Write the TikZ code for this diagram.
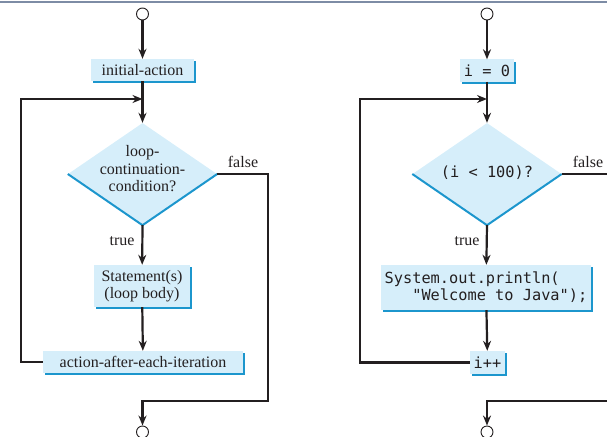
\documentclass[tikz,border=0pt]{standalone}
\usepackage{fontspec}
\setmainfont{Liberation Serif}
\setmonofont{DejaVu Sans Mono}
\usetikzlibrary{arrows.meta,shapes.geometric,shadows}
\definecolor{boxfill}{RGB}{214,238,250}
\definecolor{boxedge}{RGB}{28,150,205}
\definecolor{ink}{RGB}{35,31,32}
\definecolor{topgray}{RGB}{125,140,165}
\tikzset{
  txt/.style={font=\fontsize{16}{17.5}\selectfont, text=ink},
  code/.style={font=\ttfamily\fontsize{15.3}{17}\selectfont, text=ink},
  box/.style={rectangle, fill=boxfill, inner sep=0pt, align=center,
    drop shadow={shadow xshift=2pt, shadow yshift=-2pt, fill=boxedge, opacity=1}},
  dia/.style={diamond, fill=boxfill, inner sep=0pt, minimum width=149pt, minimum height=102pt},
  diaedge/.style={draw=boxedge, line width=2pt},
  term/.style={circle, draw=ink, fill=white, line width=0.9pt, minimum size=12pt, inner sep=0pt},
  arr/.style={draw=ink, line width=2.2pt, -{Stealth[length=10pt,width=8pt]}},
  ln/.style={draw=ink, line width=2.2pt},
  lbl/.style={font=\fontsize{16}{17.5}\selectfont, text=ink, inner sep=0pt}
}
\begin{document}
\begin{tikzpicture}[x=1pt,y=-1pt]
\useasboundingbox (0,0) rectangle (607,436);
\draw[topgray, line width=2pt] (0,2) -- (607,2);

% ---------- left flowchart ----------
\node[term] (sL) at (142.5,14) {};
\node[box, txt, minimum width=103pt, minimum height=22pt] (init) at (142.5,70) {initial-action};
\node[dia] (d1) at (142.5,174) {};
\draw[diaedge] (d1.west) -- (d1.south) -- (d1.east);
\node[txt, align=center, inner sep=0pt] (d1t) at (142.5,169) {loop-\\continuation-\\condition?};
\node[box, txt, minimum width=96pt, minimum height=42pt] (stmt) at (142,286) {Statement(s)\\(loop body)};
\node[box, txt, minimum width=200pt, minimum height=22pt] (act) at (143,362) {action-after-each-iteration};
\node[term] (eL) at (142.5,432) {};
\coordinate (jL) at (142.5,99);
\node[lbl] (fL) at (243,162) {false};
\node[lbl] (tL) at (122,241) {true};

\draw[arr] (sL) -- (init);
\draw[arr] (init) -- (d1.north);
\draw[arr] (d1.south) -- (stmt);
\draw[arr] (stmt) -- (act);
\draw[arr] (act.west) -- ++(-22,0) |- (jL);
\draw[arr] (d1.east) -- ++(51,0) |- (142.5,401) -- (eL.north);

% ---------- right flowchart ----------
\node[term] (sR) at (487,14) {};
\node[box, code, minimum width=54pt, minimum height=22pt] (i0) at (487,70.5) {i = 0};
\node[dia] (d2) at (487,174) {};
\draw[diaedge] (d2.west) -- (d2.south) -- (d2.east);
\node[code, inner sep=0pt] (d2t) at (487,173) {(i < 100)?};
\node[box, code, align=left, minimum width=210pt, minimum height=45pt] (sys) at (486,287.5) {System.out.println(\\\ \ \ "Welcome to Java");};
\node[box, code, minimum width=35pt, minimum height=23pt] (ipp) at (487.5,362.5) {i++};
\node[term] (eR) at (487,432) {};
\coordinate (jR) at (487,99);
\coordinate (offA) at (612,174);
\coordinate (offB) at (612,401);
\node[lbl] (fR) at (588,162) {false};
\node[lbl] (tR) at (467,241) {true};

\draw[arr] (sR) -- (i0);
\draw[arr] (i0) -- (d2.north);
\draw[arr] (d2.south) -- (sys);
\draw[arr] (sys) -- (ipp);
\draw[arr] (ipp.west) -- (360,362.5) |- (jR);
\draw[ln] (d2.east) -- (offA);
\draw[arr] (offB) -| (eR.north);
\end{tikzpicture}
\end{document}
